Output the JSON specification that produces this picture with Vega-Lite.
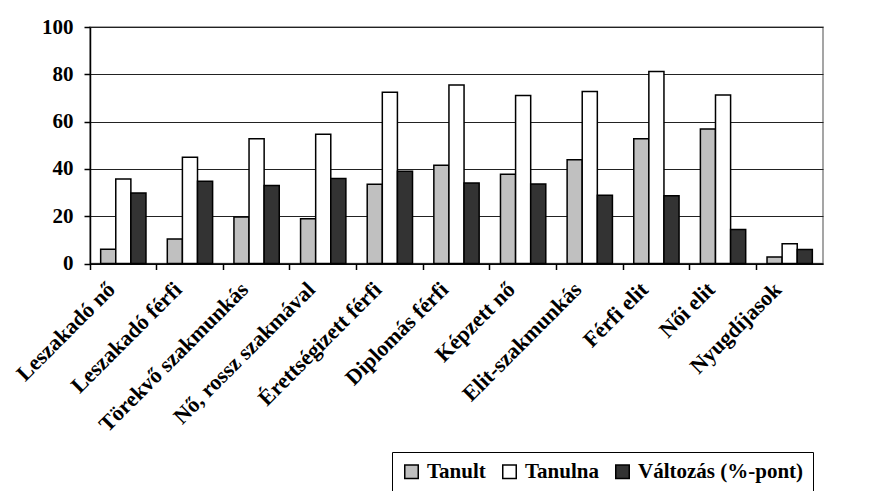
{
  "$schema": "https://vega.github.io/schema/vega-lite/v6.json",
  "width": 733,
  "height": 236.5,
  "autosize": "none",
  "padding": {"left": 90, "top": 27, "right": 57, "bottom": 227.5},
  "background": "white",
  "data": {
    "values": [
      {"cat": "Leszakadó nő", "series": "Tanult", "value": 6},
      {"cat": "Leszakadó nő", "series": "Tanulna", "value": 35.7},
      {"cat": "Leszakadó nő", "series": "Változás (%-pont)", "value": 29.8},
      {"cat": "Leszakadó férfi", "series": "Tanult", "value": 10.4},
      {"cat": "Leszakadó férfi", "series": "Tanulna", "value": 44.9},
      {"cat": "Leszakadó férfi", "series": "Változás (%-pont)", "value": 34.8},
      {"cat": "Törekvő szakmunkás", "series": "Tanult", "value": 19.7},
      {"cat": "Törekvő szakmunkás", "series": "Tanulna", "value": 52.7},
      {"cat": "Törekvő szakmunkás", "series": "Változás (%-pont)", "value": 33},
      {"cat": "Nő, rossz szakmával", "series": "Tanult", "value": 18.9},
      {"cat": "Nő, rossz szakmával", "series": "Tanulna", "value": 54.6},
      {"cat": "Nő, rossz szakmával", "series": "Változás (%-pont)", "value": 35.9},
      {"cat": "Érettségizett férfi", "series": "Tanult", "value": 33.5},
      {"cat": "Érettségizett férfi", "series": "Tanulna", "value": 72.4},
      {"cat": "Érettségizett férfi", "series": "Változás (%-pont)", "value": 39},
      {"cat": "Diplomás férfi", "series": "Tanult", "value": 41.5},
      {"cat": "Diplomás férfi", "series": "Tanulna", "value": 75.5},
      {"cat": "Diplomás férfi", "series": "Változás (%-pont)", "value": 34},
      {"cat": "Képzett nő", "series": "Tanult", "value": 37.7},
      {"cat": "Képzett nő", "series": "Tanulna", "value": 71},
      {"cat": "Képzett nő", "series": "Változás (%-pont)", "value": 33.6},
      {"cat": "Elit-szakmunkás", "series": "Tanult", "value": 43.9},
      {"cat": "Elit-szakmunkás", "series": "Tanulna", "value": 72.7},
      {"cat": "Elit-szakmunkás", "series": "Változás (%-pont)", "value": 28.9},
      {"cat": "Férfi elit", "series": "Tanult", "value": 52.8},
      {"cat": "Férfi elit", "series": "Tanulna", "value": 81.2},
      {"cat": "Férfi elit", "series": "Változás (%-pont)", "value": 28.6},
      {"cat": "Női elit", "series": "Tanult", "value": 56.9},
      {"cat": "Női elit", "series": "Tanulna", "value": 71.2},
      {"cat": "Női elit", "series": "Változás (%-pont)", "value": 14.4},
      {"cat": "Nyugdíjasok", "series": "Tanult", "value": 2.8},
      {"cat": "Nyugdíjasok", "series": "Tanulna", "value": 8.3},
      {"cat": "Nyugdíjasok", "series": "Változás (%-pont)", "value": 5.9}
    ]
  },
  "mark": {"type": "bar", "stroke": "black", "strokeWidth": 1.5},
  "encoding": {
    "x": {
      "field": "cat",
      "type": "nominal",
      "sort": null,
      "scale": {"paddingInner": 0, "paddingOuter": 0},
      "axis": {
        "title": null,
        "bandPosition": 0,
        "labelAngle": -45,
        "labelAlign": "right",
        "labelBaseline": "top",
        "labelPadding": 9,
        "labelOffset": -19,
        "labelLimit": 0,
        "labelFont": "Liberation Serif",
        "labelFontWeight": "bold",
        "labelFontSize": 22,
        "labelColor": "black",
        "domainColor": "black",
        "domainWidth": 1.5,
        "tickColor": "black",
        "tickWidth": 1.5,
        "tickSize": 6,
        "grid": false
      }
    },
    "xOffset": {
      "field": "series",
      "type": "nominal",
      "sort": ["Tanult", "Tanulna", "Változás (%-pont)"],
      "scale": {"paddingInner": 0, "paddingOuter": 0.706}
    },
    "y": {
      "field": "value",
      "type": "quantitative",
      "scale": {"domain": [0, 100], "nice": false},
      "axis": {
        "title": null,
        "values": [0, 20, 40, 60, 80, 100],
        "labelFont": "Liberation Serif",
        "labelFontWeight": "bold",
        "labelFontSize": 21,
        "labelColor": "black",
        "labelPadding": 11,
        "domainColor": "black",
        "domainWidth": 1.5,
        "tickColor": "black",
        "tickWidth": 1.5,
        "tickSize": 6,
        "gridColor": "#222222",
        "gridWidth": 1
      }
    },
    "fill": {
      "field": "series",
      "type": "nominal",
      "sort": ["Tanult", "Tanulna", "Változás (%-pont)"],
      "scale": {
        "domain": ["Tanult", "Tanulna", "Változás (%-pont)"],
        "range": ["#c0c0c0", "#ffffff", "#333333"]
      },
      "legend": {
        "title": null,
        "orient": "none",
        "legendX": 302,
        "legendY": 425,
        "direction": "horizontal",
        "strokeColor": "black",
        "padding": 9,
        "symbolType": "square",
        "symbolSize": 182,
        "symbolStrokeColor": "black",
        "symbolStrokeWidth": 1.5,
        "symbolOpacity": 1,
        "labelFont": "Liberation Serif",
        "labelFontWeight": "bold",
        "labelFontSize": 21,
        "labelLimit": 0,
        "labelColor": "black",
        "labelOffset": 5,
        "columnPadding": 13
      }
    }
  },
  "config": {
    "view": {"stroke": "#888888", "strokeWidth": 1.5}
  }
}
